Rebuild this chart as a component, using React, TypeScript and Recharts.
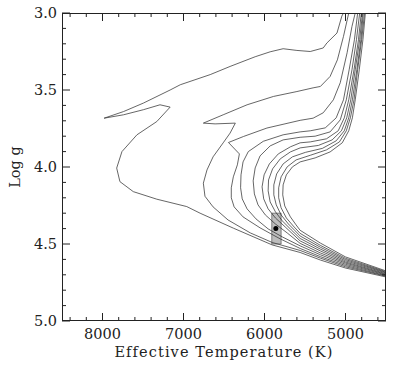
import React from 'react';
import { ComposedChart, Line, Scatter, XAxis, YAxis, ReferenceArea } from 'recharts';

// isochrones: [Teff, log g], traced from RGB tip down to the lower main sequence
const ISO_1: [number, number][] = [
  [5025, 3.0], [5045, 3.02], [5105, 3.13], [5230, 3.195], [5275, 3.227], [5435, 3.25],
  [5600, 3.243], [5770, 3.232], [5930, 3.252], [6115, 3.284], [6425, 3.347], [6670, 3.4],
  [7040, 3.466], [7165, 3.5], [7495, 3.585], [7740, 3.64], [7980, 3.683], [7740, 3.661],
  [7495, 3.628], [7290, 3.596], [7165, 3.611], [7330, 3.705], [7575, 3.791], [7760, 3.9],
  [7825, 4.007], [7785, 4.095], [7620, 4.16], [7330, 4.209], [6960, 4.257], [6795, 4.3],
  [6385, 4.397], [5905, 4.506], [5560, 4.555], [5310, 4.604], [5000, 4.656], [4500, 4.714],
];
const ISO_2: [number, number][] = [
  [4960, 3.0], [5025, 3.152], [5100, 3.304], [5190, 3.412], [5310, 3.477], [5400, 3.486],
  [5600, 3.51], [5890, 3.542], [6215, 3.596], [6510, 3.661], [6755, 3.715], [6610, 3.72],
  [6360, 3.715], [6425, 3.78], [6510, 3.843], [6635, 3.934], [6710, 4.019], [6755, 4.105],
  [6735, 4.19], [6635, 4.259], [6450, 4.344], [6175, 4.428], [5905, 4.49], [5560, 4.542],
  [5310, 4.592], [5000, 4.648], [4500, 4.709],
];
const ISO_3: [number, number][] = [
  [4880, 3.0], [4920, 3.087], [4980, 3.258], [5065, 3.453], [5150, 3.564], [5275, 3.648],
  [5400, 3.683], [5560, 3.697], [5970, 3.747], [6260, 3.802], [6445, 3.841], [6310, 3.915],
  [6335, 3.986], [6385, 4.064], [6410, 4.135], [6410, 4.2], [6375, 4.259], [6265, 4.324],
  [6055, 4.395], [5805, 4.467], [5560, 4.529], [5310, 4.582], [5000, 4.64], [4500, 4.706],
];
const ISO_4: [number, number][] = [
  [4850, 3.0], [4890, 3.174], [4955, 3.369], [5025, 3.564], [5115, 3.681], [5250, 3.746],
  [5435, 3.765], [5560, 3.772], [5770, 3.791], [6015, 3.833], [6200, 3.9], [6265, 3.967],
  [6290, 4.051], [6295, 4.135], [6275, 4.207], [6215, 4.272], [6105, 4.337], [5955, 4.402],
  [5780, 4.454], [5560, 4.512], [5310, 4.57], [5000, 4.632], [4500, 4.701],
];
const ISO_5: [number, number][] = [
  [4825, 3.0], [4865, 3.174], [4920, 3.369], [4990, 3.564], [5065, 3.694], [5190, 3.772],
  [5375, 3.8], [5560, 3.807], [5770, 3.824], [5930, 3.863], [6055, 3.928], [6115, 4.006],
  [6140, 4.09], [6125, 4.175], [6080, 4.246], [5990, 4.311], [5865, 4.37], [5720, 4.428],
  [5560, 4.496], [5310, 4.558], [5000, 4.624], [4500, 4.697],
];
const ISO_6: [number, number][] = [
  [4805, 3.0], [4840, 3.174], [4895, 3.369], [4960, 3.564], [5015, 3.681], [5090, 3.765],
  [5235, 3.817], [5435, 3.837], [5560, 3.843], [5680, 3.869], [5830, 3.915], [5940, 3.98],
  [6005, 4.051], [6030, 4.129], [6010, 4.207], [5955, 4.272], [5865, 4.331], [5745, 4.389],
  [5560, 4.48], [5310, 4.545], [5000, 4.617], [4500, 4.693],
];
const ISO_7: [number, number][] = [
  [4790, 3.0], [4825, 3.174], [4880, 3.369], [4935, 3.564], [4985, 3.681], [5050, 3.765],
  [5165, 3.824], [5335, 3.86], [5560, 3.876], [5680, 3.902], [5805, 3.947], [5900, 4.012],
  [5950, 4.084], [5955, 4.155], [5930, 4.227], [5865, 4.291], [5780, 4.35], [5670, 4.408],
  [5560, 4.464], [5310, 4.533], [5000, 4.609], [4500, 4.688],
];
const ISO_8: [number, number][] = [
  [4780, 3.0], [4810, 3.174], [4860, 3.369], [4915, 3.564], [4960, 3.681], [5015, 3.765],
  [5115, 3.83], [5285, 3.879], [5495, 3.905], [5655, 3.934], [5770, 3.98], [5850, 4.045],
  [5885, 4.116], [5885, 4.181], [5855, 4.246], [5795, 4.311], [5705, 4.37], [5620, 4.415],
  [5560, 4.448], [5310, 4.521], [5000, 4.601], [4500, 4.684],
];
const ISO_9: [number, number][] = [
  [4765, 3.0], [4800, 3.174], [4850, 3.369], [4895, 3.564], [4940, 3.681], [4990, 3.765],
  [5075, 3.837], [5235, 3.889], [5435, 3.924], [5610, 3.954], [5720, 3.999], [5795, 4.064],
  [5825, 4.135], [5825, 4.2], [5795, 4.265], [5730, 4.331], [5645, 4.383], [5560, 4.431],
  [5310, 4.509], [5000, 4.593], [4500, 4.68],
];
const ISO_10: [number, number][] = [
  [4755, 3.0], [4785, 3.174], [4830, 3.369], [4880, 3.564], [4915, 3.681], [4960, 3.765],
  [5040, 3.843], [5190, 3.902], [5375, 3.941], [5560, 3.967], [5655, 3.999], [5730, 4.051],
  [5770, 4.116], [5775, 4.181], [5750, 4.253], [5680, 4.324], [5610, 4.376], [5560, 4.411],
  [5310, 4.494], [5000, 4.584], [4500, 4.675],
];

const ISOCHRONES = [ISO_1, ISO_2, ISO_3, ISO_4, ISO_5, ISO_6, ISO_7, ISO_8, ISO_9, ISO_10];

// the star and its error box
const STAR = [{ t: 5860, g: 4.4 }];
const BOX_T = [5795, 5910];
const BOX_G = [4.3, 4.5];

const X_TICKS = [4600, 4800, 5000, 5200, 5400, 5600, 5800, 6000, 6200, 6400, 6600, 6800, 7000, 7200, 7400, 7600, 7800, 8000, 8200, 8400];
const Y_TICKS = [3.0, 3.1, 3.2, 3.3, 3.4, 3.5, 3.6, 3.7, 3.8, 3.9, 4.0, 4.1, 4.2, 4.3, 4.4, 4.5, 4.6, 4.7, 4.8, 4.9, 5.0];

const W = 415;
const H = 373;
const PLOT_TOP = 13;
const PLOT_BOTTOM = 321;
const PLOT_LEFT = 62;
const PLOT_RIGHT = 386;
const FONT = 'DejaVu Serif';
const INK = '#222';

function XTick({ x, payload }: any) {
  const v = payload.value;
  const major = v % 1000 === 0;
  const len = major ? 8 : 4;
  return (
    <g>
      <path d={`M${x},${PLOT_BOTTOM}V${PLOT_BOTTOM - len}M${x},${PLOT_TOP}V${PLOT_TOP + len}`} stroke={INK} strokeWidth={1} fill="none" />
      {major && (
        <text x={x} y={339} textAnchor="middle" style={{ fontFamily: FONT, fontSize: 14.5 }} fill={INK}>
          {v}
        </text>
      )}
    </g>
  );
}

function YTick({ y, payload }: any) {
  const v = payload.value;
  const major = Math.abs(v * 2 - Math.round(v * 2)) < 1e-6;
  const len = major ? 8 : 4;
  return (
    <g>
      <path d={`M${PLOT_LEFT},${y}H${PLOT_LEFT + len}M${PLOT_RIGHT},${y}H${PLOT_RIGHT - len}`} stroke={INK} strokeWidth={1} fill="none" />
      {major && (
        <text x={57} y={y + 5} textAnchor="end" style={{ fontFamily: FONT, fontSize: 14.5 }} fill={INK}>
          {v.toFixed(1)}
        </text>
      )}
    </g>
  );
}

export default function App() {
  return (
    <div style={{ position: 'absolute', left: 0, top: 0, width: W, height: H, background: '#fff' }}>
      <ComposedChart width={W} height={H} margin={{ top: PLOT_TOP, right: W - PLOT_RIGHT, left: 0, bottom: 0 }}>
        <XAxis
          type="number"
          dataKey="t"
          domain={[4500, 8500]}
          reversed
          ticks={X_TICKS}
          interval={0}
          tick={<XTick />}
          tickLine={false}
          axisLine={false}
          height={H - PLOT_BOTTOM}
          allowDataOverflow
        />
        <YAxis
          type="number"
          dataKey="g"
          domain={[3, 5]}
          reversed
          ticks={Y_TICKS}
          interval={0}
          tick={<YTick />}
          tickLine={false}
          axisLine={false}
          width={PLOT_LEFT}
          allowDataOverflow
        />
        <ReferenceArea
          x1={BOX_T[0]}
          x2={BOX_T[1]}
          y1={BOX_G[0]}
          y2={BOX_G[1]}
          fill="#9a9a9a"
          fillOpacity={0.65}
          stroke="#666"
          strokeWidth={0.8}
        />
        {ISOCHRONES.map((iso, i) => (
          <Line
            key={i}
            data={iso.map(([t, g]) => ({ t, g }))}
            dataKey="g"
            type="linear"
            stroke="#333"
            strokeWidth={0.75}
            dot={false}
            activeDot={false}
            isAnimationActive={false}
          />
        ))}
        <Scatter
          data={STAR}
          dataKey="g"
          fill="#000"
          shape={(p: any) => <circle cx={p.cx} cy={p.cy} r={2.5} fill="#000" />}
          isAnimationActive={false}
        />
      </ComposedChart>
      {/* plot frame */}
      <svg style={{ position: 'absolute', left: 0, top: 0, pointerEvents: 'none' }} width={W} height={H}>
        <rect
          x={PLOT_LEFT + 0.5}
          y={PLOT_TOP + 0.5}
          width={PLOT_RIGHT - PLOT_LEFT - 1}
          height={PLOT_BOTTOM - PLOT_TOP - 1}
          fill="none"
          stroke={INK}
        />
        <text
          x={20}
          y={167}
          transform="rotate(-90 20 167)"
          textAnchor="middle"
          style={{ fontFamily: FONT, fontSize: 14.5 }}
          fill={INK}
        >
          Log g
        </text>
      </svg>
      <div
        style={{
          position: 'absolute',
          left: PLOT_LEFT,
          width: PLOT_RIGHT - PLOT_LEFT,
          top: 344,
          textAlign: 'center',
          fontFamily: FONT,
          fontSize: 14.5,
          letterSpacing: 1.1,
          color: INK,
          lineHeight: '17px',
        }}
      >
        Effective Temperature (K)
      </div>
    </div>
  );
}
